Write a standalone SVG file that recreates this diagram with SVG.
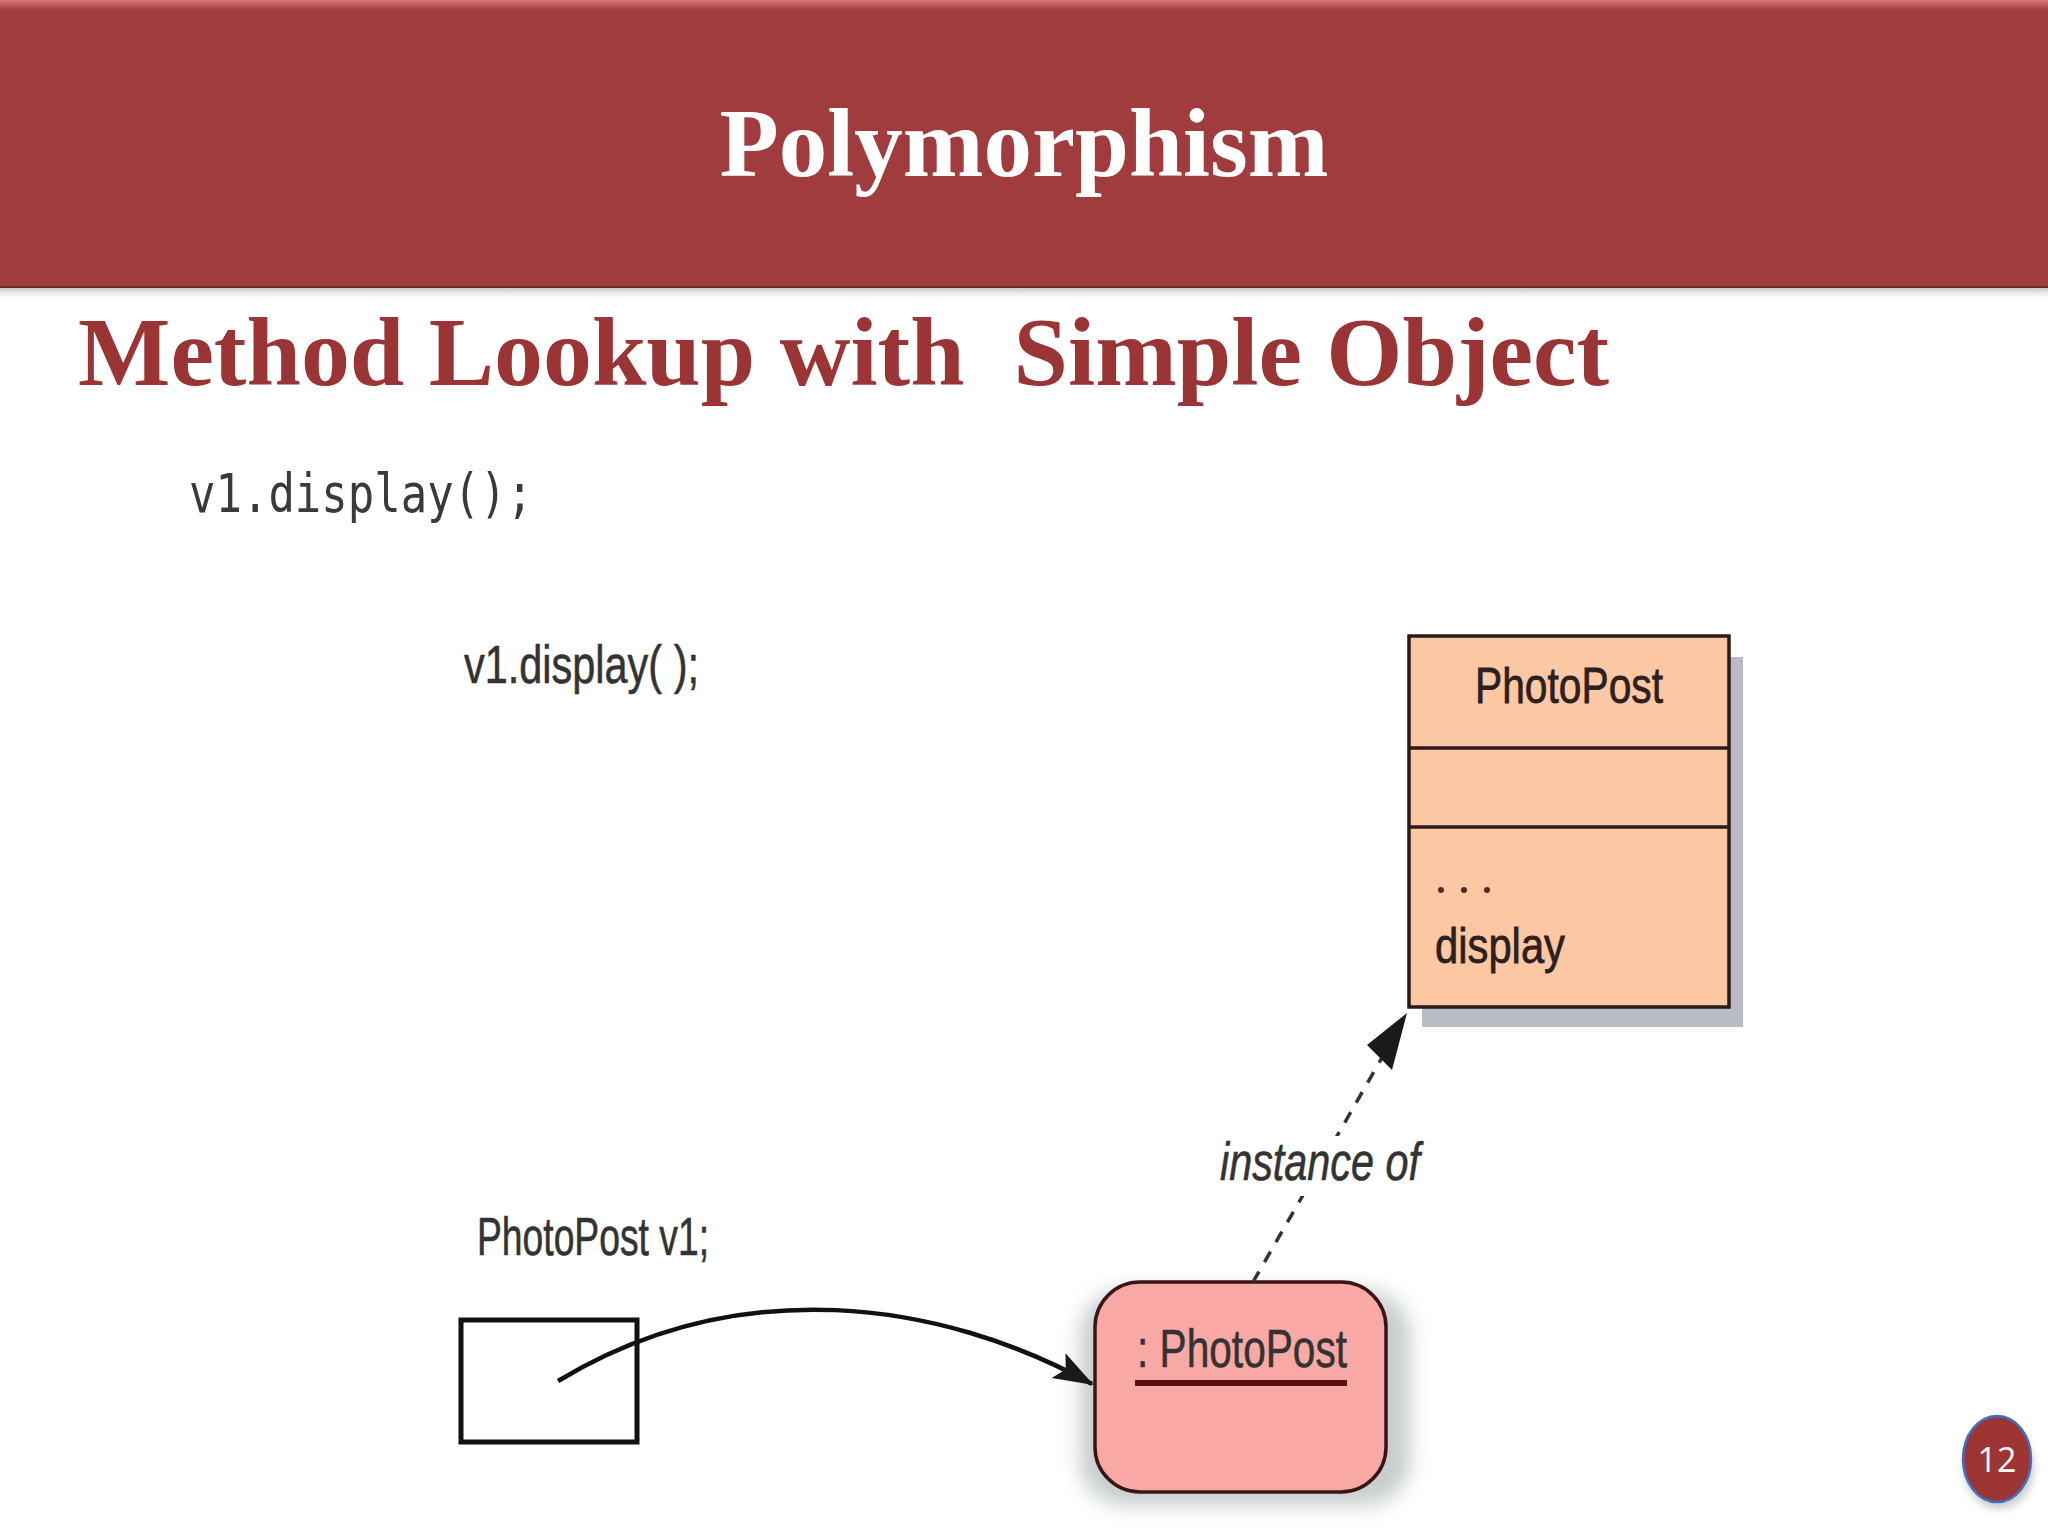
<svg xmlns="http://www.w3.org/2000/svg" width="2048" height="1536" viewBox="0 0 2048 1536">
  <defs>
    <style>
      .lbl { font-family: "Liberation Sans", Arial, sans-serif; font-size: 54px; fill: #333333; stroke: #333333; stroke-width: 0.6px; }
      .cls { font-family: "Liberation Sans", Arial, sans-serif; font-size: 50px; fill: #2e1f1f; stroke: #2e1f1f; stroke-width: 0.8px; }
      .box { stroke: #2a1a1a; stroke-width: 3.5; }
    </style>
    <linearGradient id="hdrShadow" x1="0" y1="0" x2="0" y2="1">
      <stop offset="0" stop-color="#8a8a8a" stop-opacity="0.6"/>
      <stop offset="1" stop-color="#ffffff" stop-opacity="0"/>
    </linearGradient>
    <linearGradient id="hdrTop" x1="0" y1="0" x2="0" y2="1">
      <stop offset="0" stop-color="#d97a78"/>
      <stop offset="1" stop-color="#a03c3e"/>
    </linearGradient>
    <filter id="blur" x="-30%" y="-30%" width="160%" height="160%">
      <feGaussianBlur stdDeviation="10"/>
    </filter>
    <filter id="blurS" x="-50%" y="-50%" width="200%" height="200%">
      <feGaussianBlur stdDeviation="5"/>
    </filter>
    <marker id="arrow" viewBox="0 0 40 28" refX="38" refY="14" markerWidth="40" markerHeight="28" markerUnits="userSpaceOnUse" orient="auto">
      <path d="M0,0 L40,14 L0,28 L8,14 Z" fill="#1a1a1a"/>
    </marker>
  </defs>

  <rect x="0" y="0" width="2048" height="1536" fill="#ffffff"/>

  <!-- header band -->
  <g id="header">
    <rect x="0" y="286" width="2048" height="16" fill="url(#hdrShadow)"/>
    <rect x="0" y="0" width="2048" height="288" fill="#a03c3e"/>
    <rect x="0" y="0" width="2048" height="10" fill="url(#hdrTop)"/>
    <line x1="0" y1="287" x2="2048" y2="287" stroke="#6e2a2a" stroke-width="2"/>
    <text x="1024" y="176" text-anchor="middle" font-family="'Liberation Serif', 'Times New Roman', serif" font-weight="bold" font-size="97" fill="#ffffff">Polymorphism</text>
  </g>

  <text id="subtitle" x="78" y="385" font-family="'Liberation Serif', 'Times New Roman', serif" font-weight="bold" font-size="98" fill="#9b3535" textLength="1531" lengthAdjust="spacingAndGlyphs" xml:space="preserve">Method Lookup with  Simple Object</text>

  <text id="code" x="189" y="512" font-family="'DejaVu Sans Mono', 'Liberation Mono', monospace" font-size="54" fill="#3a3a3a" textLength="344" lengthAdjust="spacingAndGlyphs">v1.display();</text>

  <text id="call" class="lbl" x="464" y="683" font-size="56" textLength="235" lengthAdjust="spacingAndGlyphs" xml:space="preserve">v1.display( );</text>

  <!-- class node -->
  <g id="class-PhotoPost">
    <rect x="1422" y="657" width="321" height="370" fill="#b9bcc3"/>
    <rect class="box" x="1409" y="636" width="320" height="371" fill="#fbc8a3"/>
    <line class="box" x1="1409" y1="748" x2="1729" y2="748"/>
    <line class="box" x1="1409" y1="827" x2="1729" y2="827"/>
    <text class="cls" x="1569" y="703" text-anchor="middle" textLength="188" lengthAdjust="spacingAndGlyphs">PhotoPost</text>
    <circle cx="1441" cy="890" r="3" fill="#4a2a2a"/>
    <circle cx="1464" cy="890" r="3" fill="#4a2a2a"/>
    <circle cx="1487" cy="890" r="3" fill="#4a2a2a"/>
    <text class="cls" x="1435" y="963" textLength="130" lengthAdjust="spacingAndGlyphs">display</text>
  </g>

  <!-- variable -->
  <g id="variable-v1">
    <text class="lbl" x="477" y="1255" font-size="56" textLength="232" lengthAdjust="spacingAndGlyphs">PhotoPost v1;</text>
    <rect x="461" y="1320" width="176" height="122" fill="#ffffff" stroke="#111111" stroke-width="5"/>
  </g>

  <!-- object node -->
  <g id="object-PhotoPost">
    <rect x="1080" y="1290" width="330" height="215" rx="45" fill="#9aa3a3" opacity="0.55" filter="url(#blur)"/>
    <rect x="1095" y="1282" width="291" height="210" rx="45" fill="#f9a9a5" stroke="#3b1515" stroke-width="3.5"/>
    <text class="lbl" x="1137" y="1367" font-size="54" fill="#3b1a1a" stroke="#3b1a1a" textLength="210" lengthAdjust="spacingAndGlyphs" xml:space="preserve">: PhotoPost</text>
    <line x1="1135" y1="1383" x2="1347" y2="1383" stroke="#5a0f0f" stroke-width="6"/>
  </g>

  <!-- connectors -->
  <g id="connectors" fill="none">
    <path d="M558,1381 C738,1272 940,1300 1092,1384" stroke="#111111" stroke-width="4.5" marker-end="url(#arrow)"/>
    <line x1="1253" y1="1282" x2="1398" y2="1030" stroke="#333333" stroke-width="3.5" stroke-dasharray="12 11"/>
    <path d="M1407,1013 L1392,1070 L1367,1045 Z" fill="#1a1a1a" stroke="none"/>
  </g>
  <g id="instance-label">
    <rect x="1214" y="1136" width="212" height="60" fill="#ffffff"/>
    <text class="lbl" x="1220" y="1180" font-style="italic" font-size="55" textLength="200" lengthAdjust="spacingAndGlyphs">instance of</text>
  </g>

  <!-- page number -->
  <g id="page-number">
    <ellipse cx="1999" cy="1468" rx="34" ry="40" fill="#888888" opacity="0.5" filter="url(#blurS)"/>
    <ellipse cx="1997" cy="1459" rx="34" ry="43" fill="#9e3535" stroke="#3f6fc0" stroke-width="2.5"/>
    <text x="1997" y="1472" text-anchor="middle" font-family="'Open Sans', 'Liberation Sans', sans-serif" font-size="34" fill="#ffffff">12</text>
  </g>
</svg>
